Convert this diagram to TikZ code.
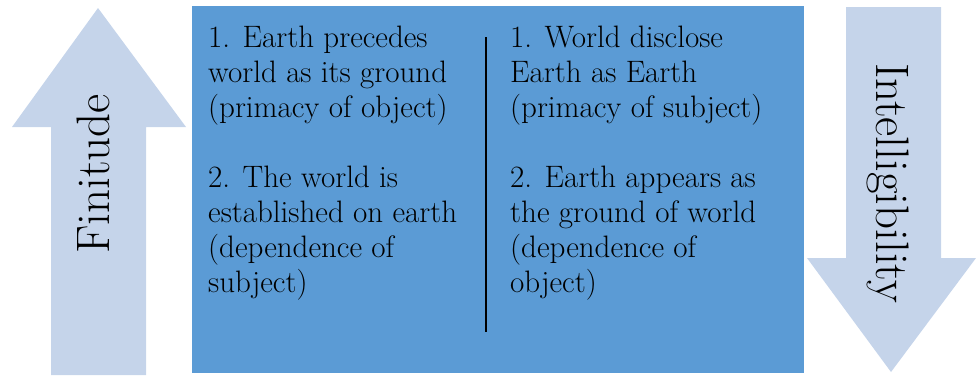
\documentclass[tikz,border=0pt]{standalone}
\usepackage{tikz}
\usepackage{xcolor}
\usetikzlibrary{positioning,calc}

\definecolor{panelblue}{HTML}{5B9BD5}
\definecolor{arrowblue}{HTML}{C5D4EA}

\begin{document}
\begin{tikzpicture}[x=1pt,y=-1pt,
  bigarrow/.style={fill=arrowblue,draw=none},
  arrowlabel/.style={font=\fontsize{47}{54}\selectfont,inner sep=0pt},
  coltext/.style={font=\fontsize{31}{35}\selectfont,align=left,inner sep=0pt,anchor=north west}]
\useasboundingbox (0,0) rectangle (976,375);

% Arrow up on the left
\fill[bigarrow] (51,375) -- (51,127) -- (12,127) -- (98,8) -- (186,127) -- (146,127) -- (146,375) -- cycle;
\node[arrowlabel,rotate=90,anchor=base] (finitude) at (109,174) {Finitude};

% Arrow down on the right
\fill[bigarrow] (846,7) -- (846,258) -- (807,258) -- (891,372) -- (976,258) -- (941,258) -- (941,7) -- cycle;
\node[arrowlabel,rotate=-90,anchor=base] (intel) at (876,183) {Intelligibility};

% Middle panel
\fill[panelblue] (192,6) rectangle (804,373);
\coordinate (divtop) at (486,37);
\coordinate (divbot) at (486,332);
\draw[line width=1.5pt] (divtop) -- (divbot);

% Two columns
\node[coltext] (leftcol) at (208,26) {1. Earth precedes\\world as its ground\\(primacy of object)\\[35pt]2. The world is\\established on earth\\(dependence of\\subject)};
\node[coltext] (rightcol) at (510,26) {1. World disclose\\Earth as Earth\\(primacy of subject)\\[35pt]2. Earth appears as\\the ground of world\\(dependence of\\object)};
\end{tikzpicture}
\end{document}
